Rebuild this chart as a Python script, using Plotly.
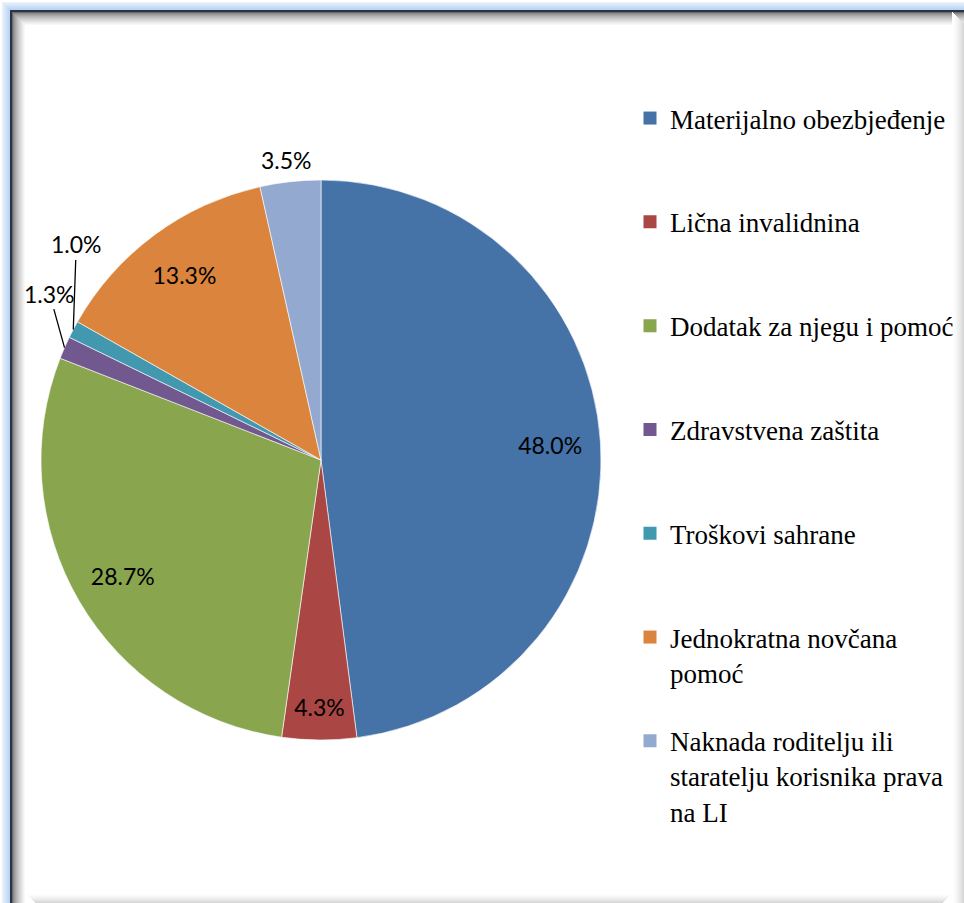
import math
import plotly.graph_objects as go

W, H = 964, 903

categories = [
    "Materijalno obezbjeđenje",
    "Lična invalidnina",
    "Dodatak za njegu i pomoć",
    "Zdravstvena zaštita",
    "Troškovi sahrane",
    "Jednokratna novčana<br>pomoć",
    "Naknada roditelju ili<br>staratelju korisnika prava<br>na LI",
]
shares = [48.0, 4.3, 28.7, 1.3, 1.0, 13.3, 3.5]
colors = ["#4572A7", "#AA4643", "#89A54E", "#71588F", "#4198AF", "#DB843D", "#93A9CF"]

# which label style each slice gets: outer ring, deep inside, or called out
label_style = ["ring", "inside", "ring", "callout", "callout", "ring", "callout"]

LABEL_FONT = dict(family="Lato, sans-serif", size=23, color="black")

# pie placement in pixels
CX, CY, R = 321, 460, 280


def px_x(p):
    return p / W


def px_y(p):
    return 1 - p / H


domain = dict(x=[px_x(CX - R), px_x(CX + R)], y=[px_y(CY + R), px_y(CY - R)])

fig = go.Figure()

fig.add_trace(
    go.Pie(
        labels=categories,
        values=shares,
        sort=False,
        direction="clockwise",
        rotation=0,
        marker=dict(colors=colors, line=dict(color="rgba(255,255,255,0.6)", width=1)),
        texttemplate="%{value:.1f}%",
        textposition=["inside" if s == "inside" else "none" for s in label_style],
        insidetextorientation="horizontal",
        textfont=LABEL_FONT,
        domain=domain,
        showlegend=False,
        hoverinfo="label+percent",
    )
)

# transparent ring carrying the labels of the big slices further out
fig.add_trace(
    go.Pie(
        labels=categories,
        values=shares,
        sort=False,
        direction="clockwise",
        rotation=0,
        hole=0.64,
        marker=dict(colors=["rgba(0,0,0,0)"] * len(shares), line=dict(width=0)),
        texttemplate="%{value:.1f}%",
        textposition=["inside" if s == "ring" else "none" for s in label_style],
        insidetextorientation="horizontal",
        textfont=LABEL_FONT,
        domain=domain,
        showlegend=False,
        hoverinfo="skip",
    )
)

# callout labels for the thin slices, anchored at the slice's outer edge
annotations = []
callout_offsets = {3: (-15, -54, True), 4: (3, -85, True), 6: (-4, -22, False)}
cum = 0.0
total = sum(shares)
for i, v in enumerate(shares):
    mid = (cum + v / 2) / total * 2 * math.pi
    cum += v
    if label_style[i] != "callout":
        continue
    ex = CX + R * math.sin(mid)
    ey = CY - R * math.cos(mid)
    dx, dy, line = callout_offsets[i]
    annotations.append(dict(
        x=px_x(ex), y=px_y(ey), xref="paper", yref="paper",
        text=f"{v:.1f}%", font=LABEL_FONT,
        showarrow=True, arrowhead=0, arrowwidth=1.3,
        arrowcolor="black" if line else "rgba(0,0,0,0)",
        ax=dx, ay=dy, standoff=0,
    ))

# legend entries, one legend each so they can be spaced like the original
legend_top = 120
legend_step = 103.8
layout_legends = {}
for i, (name, c) in enumerate(zip(categories, colors)):
    key = "legend" if i == 0 else f"legend{i + 1}"
    fig.add_trace(
        go.Scatter(
            x=[None], y=[None], mode="markers", name=name,
            marker=dict(symbol="square", size=13, color=c),
            legend=key, showlegend=True, hoverinfo="skip",
        )
    )
    layout_legends[key] = dict(
        x=px_x(630), xanchor="left",
        y=px_y(legend_top + i * legend_step - 26), yanchor="top",
        valign="top", bgcolor="rgba(0,0,0,0)",
        itemwidth=30,
        font=dict(family="Liberation Serif, Times New Roman, serif", size=27, color="black"),
    )


def blend(c1, c2, t):
    a = [int(c1[k:k + 2], 16) for k in (1, 3, 5)]
    b = [int(c2[k:k + 2], 16) for k in (1, 3, 5)]
    return "#" + "".join(f"{round(x + (y - x) * t):02x}" for x, y in zip(a, b))


shapes = []


def rect(x0, y0, x1, y1, color):
    shapes.append(dict(type="rect", xref="paper", yref="paper",
                       x0=px_x(x0), x1=px_x(x1), y0=px_y(y1), y1=px_y(y0),
                       fillcolor=color, line=dict(width=0), layer="below"))


# outer light-blue glow
for k in range(8):
    col = blend("#e8f1fc", "#b9d3f5", k / 7)
    rect(2 + k, 2 + k, 2 + k + 1, H, col)
    rect(2 + k, 2 + k, W, 2 + k + 1, col)
# inner soft shadow
for k in range(14):
    col = blend("#6a6a6a", "#ffffff", (k / 13) ** 0.6)
    rect(12 + k, 12 + k, 13 + k, H, col)
    rect(12 + k, 12 + k, W, 13 + k, col)
for k in range(12):
    col = blend("#ffffff", "#d6d6d6", (k / 11) ** 1.5)
    rect(952 + k, 12 + k, 953 + k, H, col)
for k in range(10):
    col = blend("#ffffff", "#d8d8d8", (k / 9) ** 1.5)
    rect(26 + k, 893 + k, 952 - k, 894 + k, col)
# dark frame line
rect(10, 10, 12, H, "#2a3444")
rect(10, 10, W, 12, "#2a3444")

fig.update_layout(
    width=W, height=H,
    margin=dict(l=0, r=0, t=0, b=0),
    paper_bgcolor="white", plot_bgcolor="white",
    xaxis=dict(visible=False), yaxis=dict(visible=False),
    shapes=shapes,
    annotations=annotations,
    **layout_legends,
)

fig.write_html(
    "out.html",
    config={"displayModeBar": False},
    post_script="document.body.style.margin='0';document.body.style.overflow='hidden';",
)
